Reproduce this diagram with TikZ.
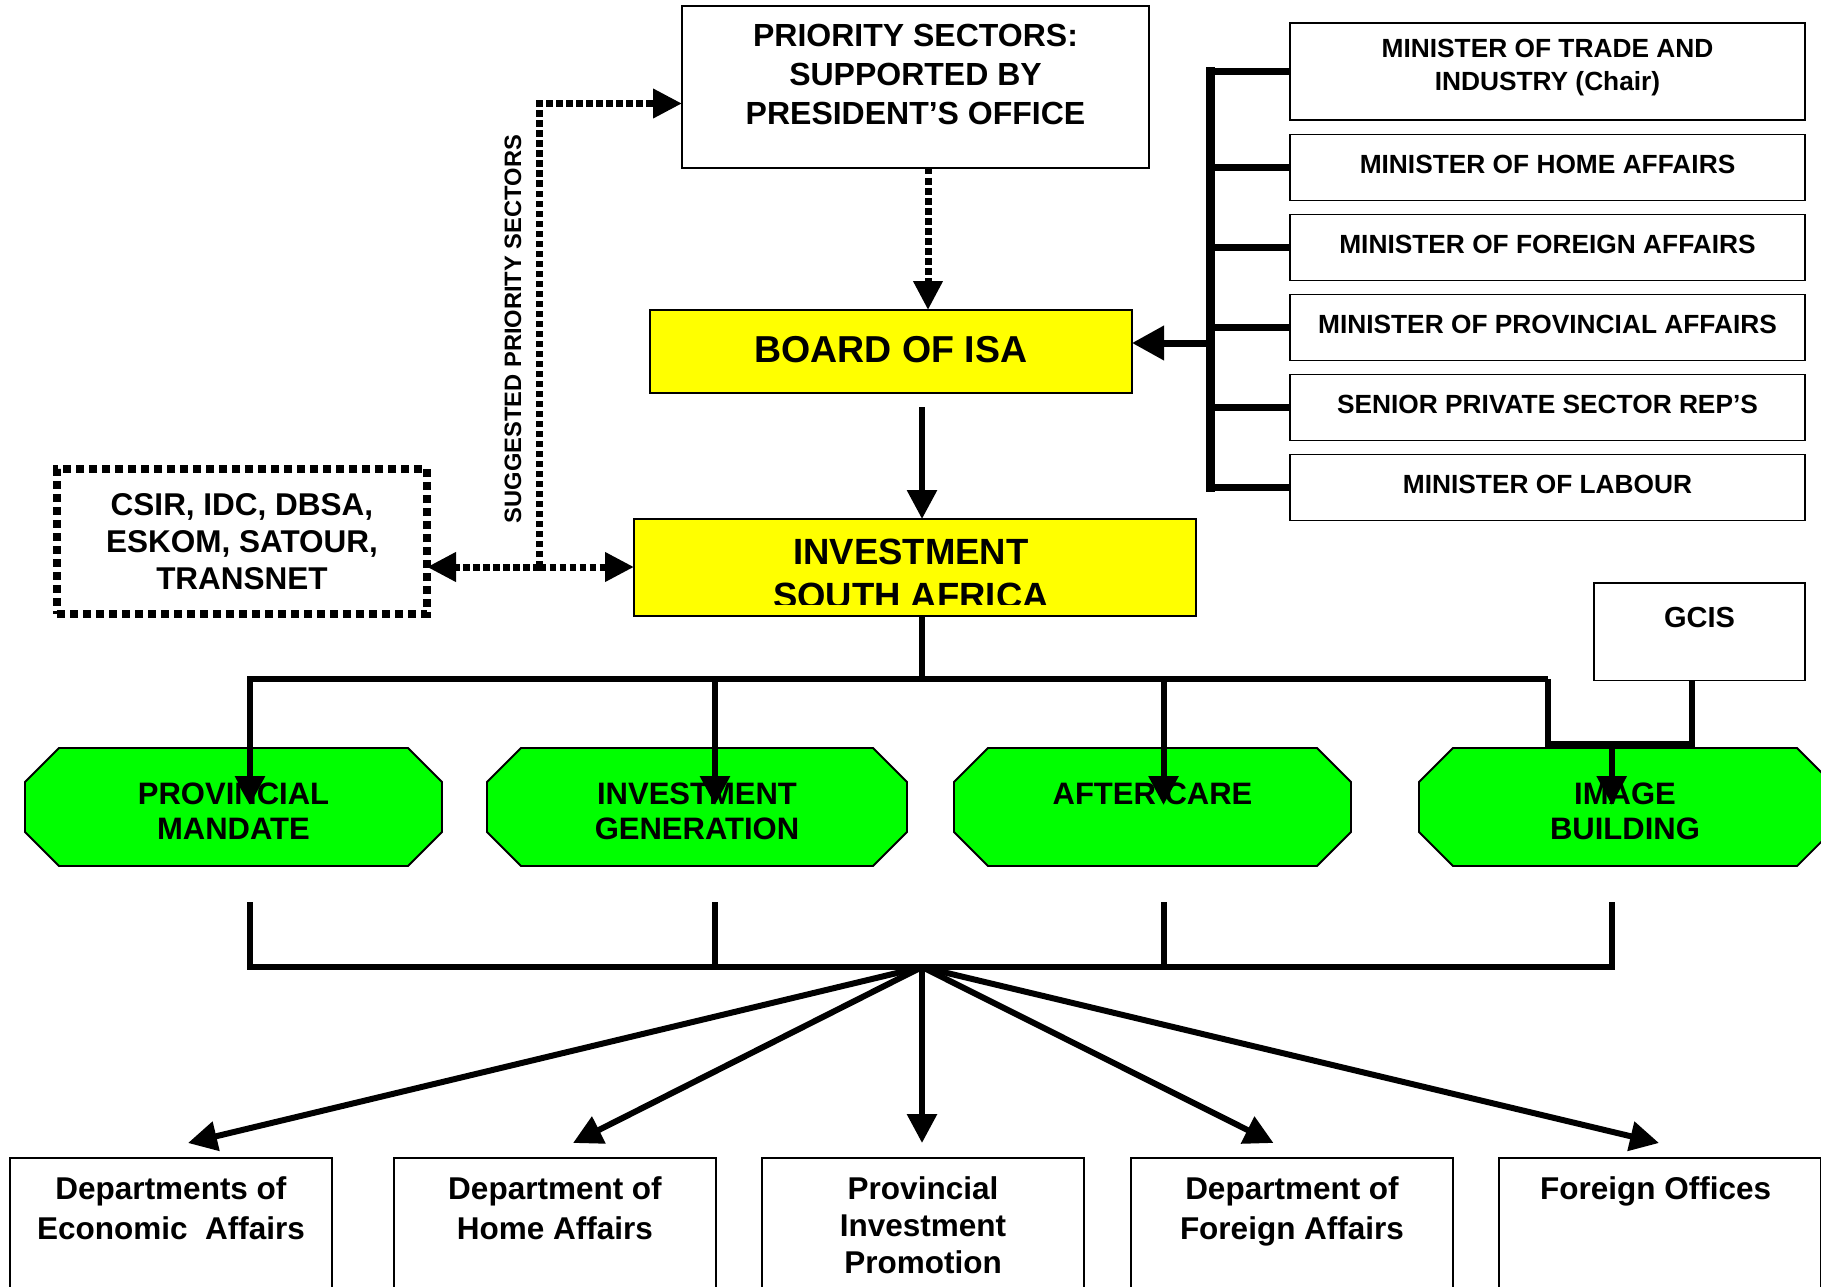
\documentclass[tikz,border=0pt]{standalone}
\usepackage{fontspec}
\setmainfont{Liberation Sans}
\usetikzlibrary{arrows.meta,positioning}

\definecolor{isayellow}{RGB}{255,255,0}
\definecolor{unitgreen}{RGB}{0,255,0}

\pgfdeclarelayer{back}
\pgfsetlayers{back,main}

\tikzset{
  box/.style={draw, line width=1.8pt, inner sep=0pt, outer sep=0pt},
  yellowbox/.style={box, fill=isayellow},
  minfont/.style={font=\bfseries\fontsize{26.3}{32.5}\selectfont},
  minbox/.style={box, minfont, minimum width=515pt, minimum height=66pt, text depth=7pt},
  deptbox/.style={box, minimum width=322pt, minimum height=160pt, anchor=north},
  depttext/.style={align=center, inner sep=0pt, anchor=north,
    font=\bfseries\fontsize{31.5}{40}\selectfont},
  unit/.style={minimum height=118pt, inner sep=0pt, outer sep=0pt, align=center,
    font=\bfseries\fontsize{31}{35}\selectfont},
  unitshape/.style={fill=unitgreen, draw, line width=1.8pt},
  link/.style={line width=6pt, line join=miter},
  arr/.style={link, -{Triangle[length=29pt,width=29pt]}},
  dots/.style={line width=7pt, dash pattern=on 6.5pt off 3.5pt},
  darr/.style={dots, -{Triangle[length=29pt,width=28pt]}},
}

\begin{document}
\begin{tikzpicture}[x=1pt,y=-1pt]
    \useasboundingbox (0,0) rectangle (1821,1287);

    % Priority sectors, board and ISA
    \node[box, minimum width=467pt, minimum height=162pt] (prio) at (915.5,87) {};
    \node[depttext, font=\bfseries\fontsize{32}{39}\selectfont, below=18pt of prio.north] (prio-t)
        {PRIORITY SECTORS:\\SUPPORTED BY\\PRESIDENT’S OFFICE};
    \node[yellowbox, minimum width=482pt, minimum height=83pt, text depth=4.6pt,
        font=\bfseries\fontsize{37.5}{44}\selectfont] (board) at (891,351.5) {BOARD OF ISA};
    \node[yellowbox, minimum width=562pt, minimum height=97pt] (isa) at (915,567.5) {};
    \begin{scope}
        \clip (isa.north west) rectangle ([yshift=12pt]isa.south east);
        \node[depttext, font=\bfseries\fontsize{36.5}{44}\selectfont, below=20pt of isa.north, xshift=-4pt] (isa-t)
            {INVESTMENT\\SOUTH AFRICA};
    \end{scope}

    % Agencies box with dotted border
    \node[box, line width=8pt, dash pattern=on 8pt off 5pt, minimum width=370pt, minimum height=145pt,
        align=center, font=\bfseries\fontsize{31.5}{37}\selectfont] (csir) at (242,541.5)
        {CSIR, IDC, DBSA,\\ESKOM, SATOUR,\\TRANSNET};

    % Ministers on the board
    \node[box, minimum width=515pt, minimum height=97pt] (m1) at (1547.5,71.5) {};
    \node[minfont, align=center, inner sep=0pt] (m1-t) at ([yshift=4pt]m1.center)
        {MINISTER OF TRADE AND\\INDUSTRY (Chair)};
    \foreach \i/\y/\t in {
        2/167.5/MINISTER OF HOME AFFAIRS, 3/247.5/MINISTER OF FOREIGN AFFAIRS,
        4/327.5/MINISTER OF PROVINCIAL AFFAIRS, 5/407.5/SENIOR PRIVATE SECTOR REP’S,
        6/487.5/MINISTER OF LABOUR
    }
    \node[minbox] (m\i) at (1547.5,\y) {\t};

    \coordinate (bustop) at (1210.5,67);
    \coordinate (busbot) at (1210.5,492);
    \coordinate (busout) at (1210.5,343);
    \draw[line width=9pt] (bustop) -- (busbot);
    \foreach \i in {1,...,6}
    \draw[line width=7pt] (m\i.west) -- (m\i.west -| bustop);
    \draw[line width=7pt, -{Triangle[length=32pt,width=33pt]}] (busout) -- (board.east |- busout);

    % Dotted links
    \draw[darr] ([xshift=12.5pt]prio.south) -- ([xshift=37pt]board.north);
    \coordinate (sugtop) at (539.5,103.5);
    \coordinate (sugbot) at (539.5,567);
    \draw[darr] (sugbot) -- (sugtop) -- (prio.west |- sugtop);
    \draw[darr] (sugbot) -- (isa.west |- sugbot);
    \draw[darr] (sugbot) -- (csir.east |- sugbot);
    \node[rotate=90, inner sep=0pt, font=\bfseries\fontsize{23.7}{28}\selectfont] (sug-t) at (513,329)
        {SUGGESTED PRIORITY SECTORS};

    \draw[arr] ([xshift=31pt,yshift=-14pt]board.south) -- ([xshift=7pt]isa.north);

    % GCIS
    \node[box, minimum width=211pt, minimum height=97.5pt] (gcis) at (1699.5,631.75) {};
    \node[depttext, font=\bfseries\fontsize{29}{34}\selectfont, below=24pt of gcis.north] (gcis-t) {GCIS};

    % The four units (text sits a little low in the shape)
    \node[unit, minimum width=417pt] (pm) at (233.5,811) {PROVINCIAL\\MANDATE};
    \node[unit, minimum width=420pt] (ig) at (697,811) {INVESTMENT\\GENERATION};
    \node[unit, minimum width=397pt] (ac) at (1152.5,811) {AFTER CARE\\\mbox{}};
    \node[unit, minimum width=412pt] (ib) at (1625,811) {IMAGE\\BUILDING};
    \begin{pgfonlayer}{back}
        \foreach \o in {pm,ig,ac,ib}
        \draw[unitshape] ([xshift=34pt,yshift=4pt]\o.north west) -- ([xshift=-34pt,yshift=4pt]\o.north east)
            -- ([yshift=-30pt]\o.north east) -- ([yshift=38pt]\o.south east)
            -- ([xshift=-34pt,yshift=4pt]\o.south east) -- ([xshift=34pt,yshift=4pt]\o.south west)
            -- ([yshift=38pt]\o.south west) -- ([yshift=-30pt]\o.north west) -- cycle;
    \end{pgfonlayer}

    % ISA down to the units
    \coordinate (tbl) at (250,679);
    \coordinate (tbr) at (1547.5,679);
    \coordinate (gturn) at (1547.5,743.5);
    \coordinate (gdrop) at ([xshift=-8pt]gcis.south);
    \draw[link] ([xshift=7pt]isa.south) -- ([xshift=7pt]isa.south |- tbl);
    \draw[arr] (tbr) -- (tbl) -- ([yshift=6pt]tbl |- pm.center);
    \foreach \o/\x in {ig/715, ac/1163.5}
    \draw[arr] (\x,679) -- ([yshift=6pt]\x,0 |- \o.center);
    \draw[link] (tbr) -- (gturn) -| (gdrop);
    \draw[arr] (1611.7,743.5) -- ([yshift=6pt]1611.7,0 |- ib.center);

    % Units down to the departments
    \coordinate (fan) at (922,967);
    \foreach \x in {250,715,1163.5,1611.7}
    \draw[link] (\x,902) |- (fan);

    \foreach \n/\x/\bs/\t in {
        econ/171/40/{Departments of\\Economic\ \ Affairs}, home/555/40/{Department of\\Home Affairs},
        prov/923/37/{Provincial\\Investment\\Promotion}, forn/1292/40/{Department of\\Foreign Affairs},
        foff/1660/40/{Foreign Offices}
    } {
        \node[deptbox] (\n) at (\x,1158) {};
        \node[depttext, font=\bfseries\fontsize{31.5}{\bs}\selectfont, below=18pt of \n.north] (\n-t) {\t};
    }
    \foreach \n/\dx in {econ/17, home/18, prov/-1, forn/-18.5, foff/-1}
    \draw[arr] (fan) -- ([xshift=\dx pt,yshift=15pt]\n.north);
\end{tikzpicture}
\end{document}
